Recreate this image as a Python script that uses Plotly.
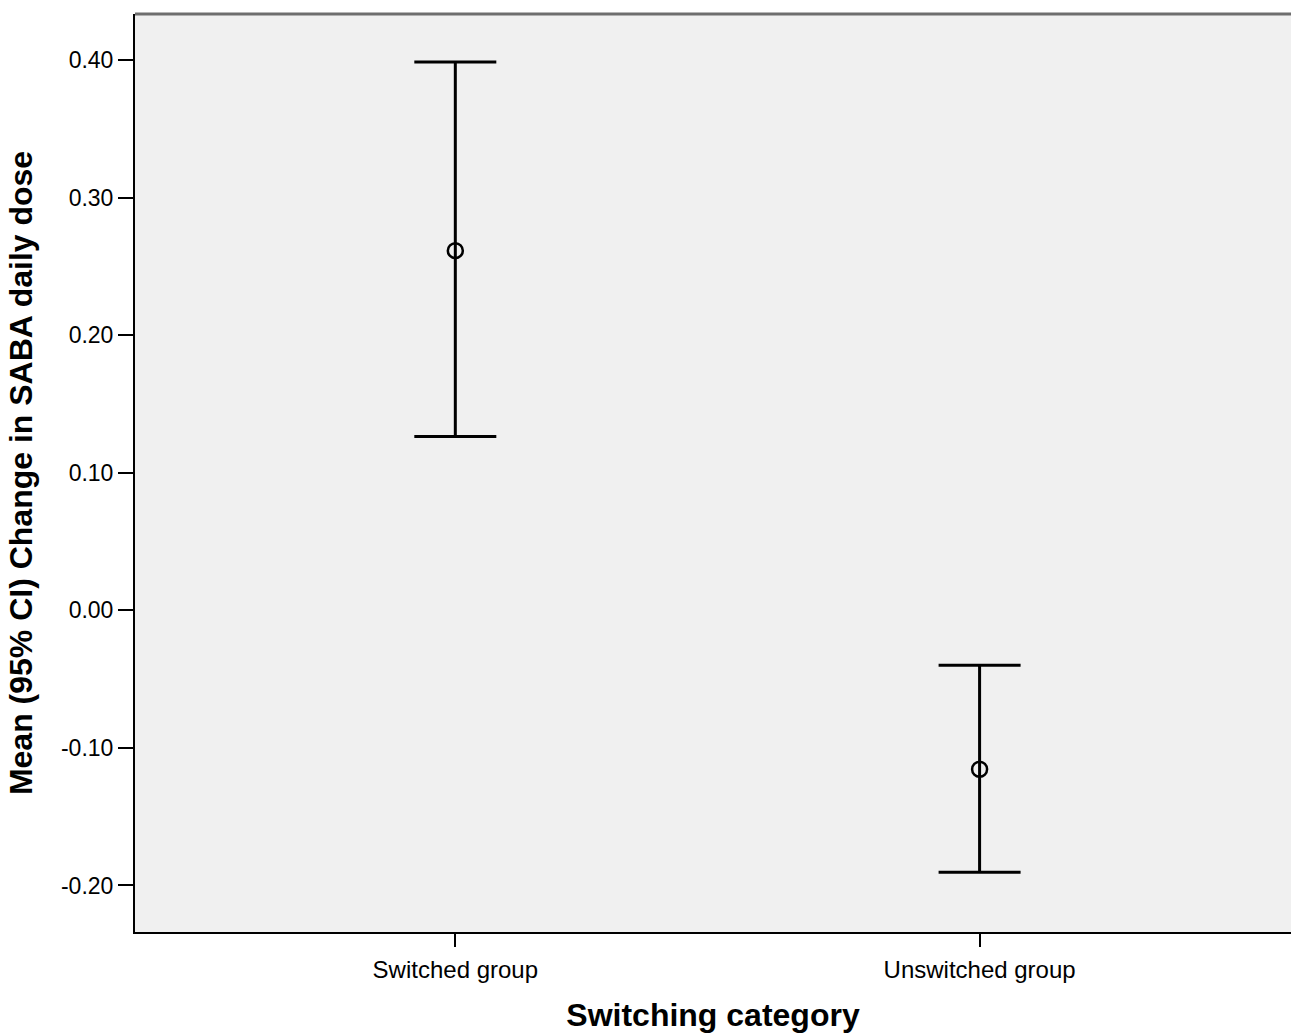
import plotly.graph_objects as go

categories = ["Switched group", "Unswitched group"]
means = [0.2614, -0.1155]
upper = [0.3985, -0.0400]
lower = [0.1264, -0.1903]
y_ticks = [-0.20, -0.10, 0.00, 0.10, 0.20, 0.30, 0.40]
y_ticktext = ["%.2f" % v for v in y_ticks]

xpos = list(range(len(categories)))
err_plus = [u - m for u, m in zip(upper, means)]
err_minus = [m - l for m, l in zip(means, lower)]

fig = go.Figure()
fig.add_trace(go.Scatter(
    x=xpos, y=means, mode="markers",
    marker=dict(symbol="circle-open", size=15, color="black", line=dict(width=2.5, color="black")),
    error_y=dict(type="data", symmetric=False, array=err_plus, arrayminus=err_minus,
                 color="black", thickness=3, width=41),
    showlegend=False,
))

font_family = "Liberation Sans, Arial, sans-serif"
fig.update_layout(
    width=1291, height=1033,
    margin=dict(l=135, r=0, t=14, b=101),
    paper_bgcolor="white", plot_bgcolor="#f0f0f0",
    font=dict(family=font_family, color="black"),
    xaxis=dict(
        range=[-0.611, 1.594], tickvals=xpos, ticktext=categories,
        showgrid=False, zeroline=False, showline=True, linecolor="black", linewidth=2,
        ticks="outside", ticklen=13, tickwidth=2, tickcolor="black",
        ticklabelstandoff=2,
        tickfont=dict(size=24, family=font_family),
        title=dict(text="<b>Switching category</b>", font=dict(size=32, family=font_family), standoff=28),
    ),
    yaxis=dict(
        range=[-0.2338, 0.4334], tickvals=y_ticks, ticktext=y_ticktext,
        showgrid=False, zeroline=False, showline=True, linecolor="black", linewidth=2,
        ticks="outside", ticklen=15, tickwidth=2, tickcolor="black",
        tickfont=dict(size=23, family=font_family),
        title=dict(text="<b>Mean (95% CI) Change in SABA daily dose</b>", font=dict(size=32, family=font_family), standoff=19),
    ),
)
fig.add_shape(type="line", xref="paper", yref="paper", x0=0, x1=1, y0=1, y1=1,
              line=dict(color="#6e6e6e", width=3))

fig.write_html("out.html", config={"displayModeBar": False},
               post_script="document.body.style.margin='0';document.body.style.overflow='hidden';")
